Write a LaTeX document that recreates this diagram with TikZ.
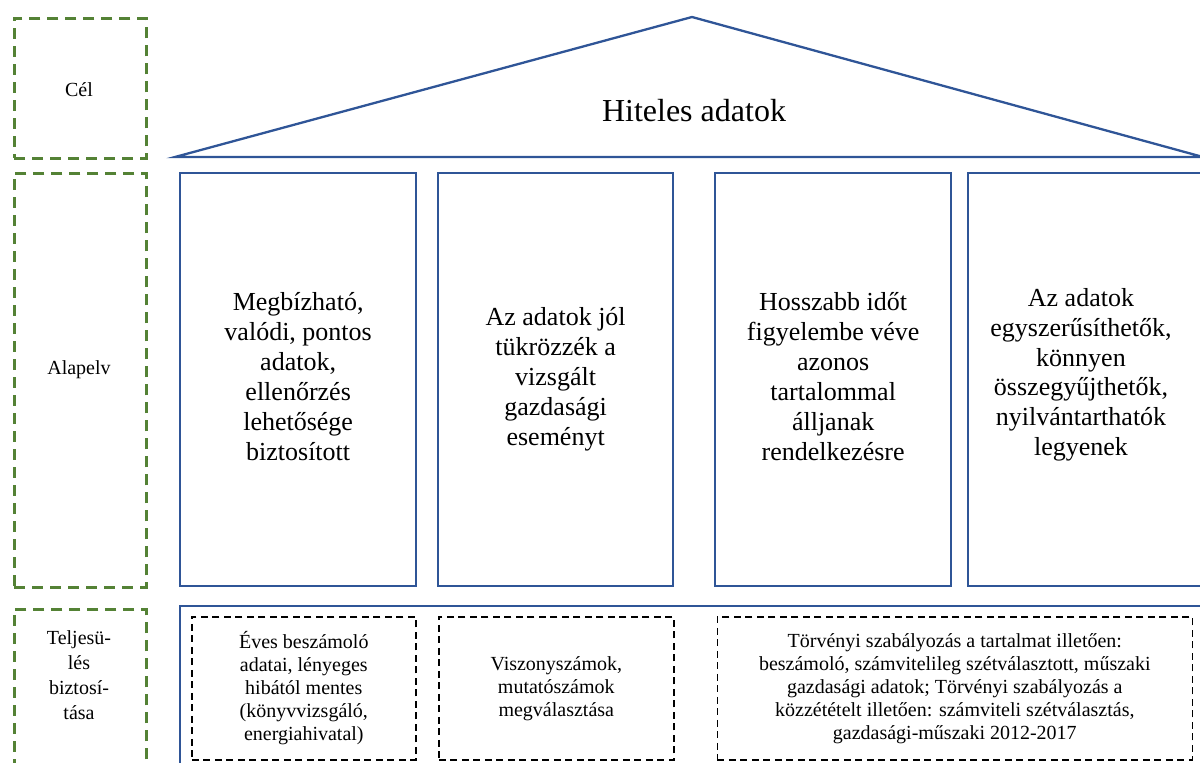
\documentclass[tikz,border=0pt]{standalone}
\usepackage{fontspec}
\usepackage{graphicx}
\setmainfont{Liberation Serif}
\definecolor{roofblue}{HTML}{2F5597}
\definecolor{levelgreen}{HTML}{548235}
% one text size throughout; larger labels are scaled copies of it
\newcommand{\basefont}{\fontsize{20pt}{23pt}\selectfont}
\newcommand{\scaledlines}[2]{\scalebox{#1}{\begin{tabular}{@{}c@{}}#2\end{tabular}}}

\begin{document}
\begin{tikzpicture}[x=1pt,y=-1pt,
  pillar/.style={draw=roofblue, line width=2.3pt, inner sep=0pt, anchor=north west,
    align=center, font=\basefont},
  level/.style={draw=levelgreen, line width=2.6pt, dash pattern=on 11pt off 7pt,
    inner sep=0pt, anchor=north west},
  leveltext/.style={align=center, font=\basefont},
  item/.style={draw=black, line width=1.6pt, dash pattern=on 7pt off 4.5pt,
    inner sep=0pt, anchor=north west, align=center, font=\basefont},
]
\useasboundingbox (0,0) rectangle (1200,763);
\clip (0,0) rectangle (1200,763);

% level frames on the left
\node[level, minimum width=132pt, minimum height=140pt] (lvl1) at (13,17) {};
\node[level, minimum width=132pt, minimum height=414pt] (lvl2) at (13,172) {};
\node[level, minimum width=132pt, minimum height=180pt] (lvl3) at (13,608) {};
\node[leveltext] (t1) at (79,90) {Cél};
\node[leveltext] (t2) at (79,370) {Alapelv};
\node[leveltext] (t3) at (79,675) {Teljesü-\\[2pt]lés\\[2pt]biztosí-\\[2pt]tása};

% roof
\coordinate (roofL) at (175,157);
\coordinate (roofT) at (692,17);
\coordinate (roofR) at (1203,157);
\draw[roofblue, line width=2.3pt, line join=miter] (roofL) -- (roofT) -- (roofR) -- cycle;
\node[font=\basefont] (goal) at (694,111) {\scalebox{1.6}{Hiteles adatok}};

% pillars
\node[pillar, minimum width=236pt, minimum height=413pt] (p1) at (179,172)
  {\scaledlines{1.3}{Megbízható,\\valódi, pontos\\adatok,\\ellenőrzés\\lehetősége\\biztosított}};
\node[pillar, minimum width=235pt, minimum height=413pt] (p2) at (437,172)
  {\scaledlines{1.3}{Az adatok jól\\tükrözzék a\\vizsgált\\gazdasági\\eseményt}};
\node[pillar, minimum width=236pt, minimum height=413pt] (p3) at (714,172)
  {\scaledlines{1.3}{Hosszabb időt\\figyelembe véve\\azonos\\tartalommal\\álljanak\\rendelkezésre}};
\node[pillar, minimum width=240pt, minimum height=413pt] (p4) at (967,172) {};
\node[font=\basefont] (p4text) at (1081,375)
  {\scaledlines{1.3}{Az adatok\\egyszerűsíthetők,\\könnyen\\összegyűjthetők,\\nyilvántarthatók\\legyenek}};

% foundation
\node[pillar, minimum width=1040pt, minimum height=180pt] (base) at (179,605) {};
\node[item, minimum width=224pt, minimum height=143pt] (i1) at (191,616)
  {Éves beszámoló\\adatai, lényeges\\hibától mentes\\(könyvvizsgáló,\\energiahivatal)};
\node[item, minimum width=235pt, minimum height=143pt] (i2) at (438,616)
  {Viszonyszámok,\\mutatószámok\\megválasztása};
\node[item, minimum width=475pt, minimum height=143pt] (i3) at (716.5,616)
  {Törvényi szabályozás a tartalmat illetően:\\beszámoló, számvitelileg szétválasztott, műszaki\\gazdasági adatok; Törvényi szabályozás a\\közzétételt illetően: számviteli szétválasztás,\\gazdasági-műszaki 2012-2017};
\end{tikzpicture}
\end{document}
